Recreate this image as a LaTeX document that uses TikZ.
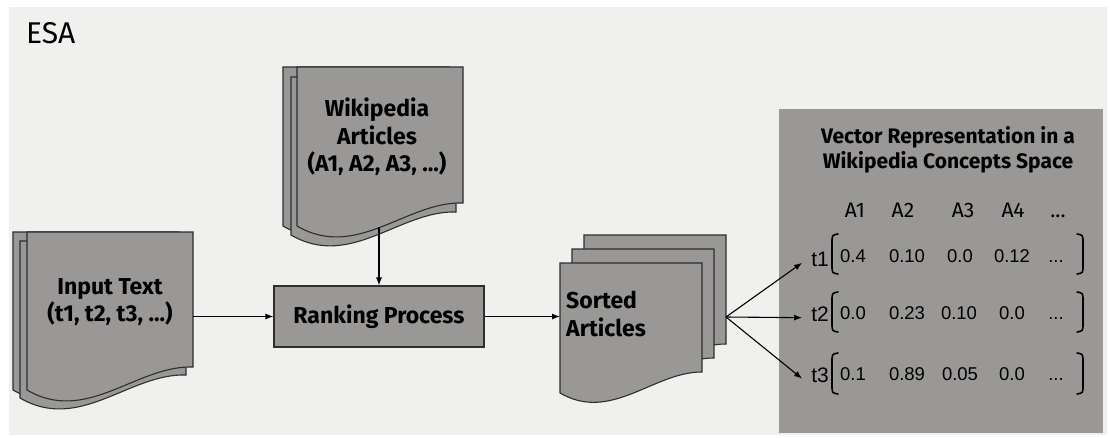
\documentclass[tikz,border=0pt]{standalone}
\usepackage{fontspec}
\setmainfont{Fira Sans}
\newfontfamily\arialfont{Liberation Sans}
\usetikzlibrary{arrows.meta}

\definecolor{bgfill}{HTML}{F0F0EF}
\definecolor{docfill}{HTML}{999896}
\definecolor{docline}{HTML}{2E2E2E}

% one sheet of a document stack: x, y (top left), width, left height, rise of right corner
\newcommand{\docsheet}[5]{%
  \draw[sheet] (#1,#2) -- ({#1+#3},#2) -- ({#1+#3},{#2+#4-#5})
    .. controls ({#1+0.66*#3},{#2+#4-0.15*#3}) and ({#1+0.36*#3},{#2+#4+0.21*#3}) .. (#1,{#2+#4}) -- cycle;}

\tikzset{
  sheet/.style={draw=docline, fill=docfill, line width=1.1pt},
  boldlabel/.style={font=\fontsize{23}{27.5}\selectfont\bfseries, align=center, inner sep=0pt},
  colhead/.style={font=\fontsize{21}{24}\selectfont, anchor=base, inner sep=0pt},
  cell/.style={font=\arialfont\fontsize{18.5}{21}\selectfont, anchor=base, inner sep=0pt},
  rowlabel/.style={font=\arialfont\fontsize{21}{24}\selectfont, anchor=base east, inner xsep=9pt, inner ysep=0pt, text depth=7pt},
  paren/.style={line width=1.6pt, line cap=round},
  flow/.style={->, line width=1.1pt, draw=black}
}

\begin{document}
\begin{tikzpicture}[x=1pt, y=-1pt, >={Latex[length=8pt,width=6pt]}]
  \useasboundingbox (0,0) rectangle (1110,437);
  % Background
  \fill[bgfill] (9,7) rectangle (1107,435);
  \node[anchor=base west, font=\fontsize{30}{36}\selectfont, inner sep=0pt] (esa) at (26,43) {ESA};

  % Input text
  \docsheet{13}{232}{166}{158}{23}
  \docsheet{20}{241}{166}{157}{23}
  \docsheet{27}{232}{166}{158}{23}
  \node[boldlabel] (input) at (110,302) {Input Text\\(t1, t2, t3, ...)};
  \coordinate (input-e) at (193,316.5);

  % Wikipedia articles
  \docsheet{283}{67}{166}{159}{23}
  \docsheet{291}{77}{165}{158}{23}
  \docsheet{297}{67}{166}{159}{23}
  \node[boldlabel] (wiki) at (377,137) {Wikipedia\\Articles\\(A1, A2, A3, ...)};
  \coordinate (wiki-s) at (379,227);

  % Ranking
  \node[sheet, boldlabel, minimum width=210pt, minimum height=61pt] (rank) at (379,316.5) {Ranking Process};

  % Sorted articles
  \docsheet{584}{235}{142}{130}{21}
  \docsheet{572}{249}{142}{130}{21}
  \docsheet{560}{263}{142}{130}{21}
  \node[boldlabel, align=left, anchor=west] (sorted) at (566,314) {Sorted\\Articles};
  \coordinate (sorted-w) at (560,316.5);
  \coordinate (fan) at (726,317);

  \draw[flow] (input-e) -- (rank.west);
  \draw[flow] (wiki-s) -- (rank.north);
  \draw[flow] (rank.east) -- (sorted-w);

  % Vector representation
  \fill[docfill] (779,109) rectangle (1103,433);
  \node[font=\fontsize{21}{25}\selectfont\bfseries, align=center, inner sep=0pt] (title) at (948,150)
    {Vector Representation in a\\Wikipedia Concepts Space};

  \node[colhead] (hA1) at (855,217) {A1};
  \node[colhead] (hA2) at (903,217) {A2};
  \node[colhead] (hA3) at (963,217) {A3};
  \node[colhead] (hA4) at (1013,217) {A4};
  \node[colhead] (hdots) at (1058,217) {...};

  \node[rowlabel] (t1) at (838,266.5) {t1};
  \node[rowlabel] (t2) at (838,321.5) {t2};
  \node[rowlabel] (t3) at (838,382.5) {t3};

  \node[cell] (v11) at (853,262.5) {0.4};
  \node[cell] (v12) at (907,262.5) {0.10};
  \node[cell] (v13) at (960,262.5) {0.0};
  \node[cell] (v14) at (1012,262.5) {0.12};
  \node[cell] (v15) at (1056,262.5) {...};

  \node[cell] (v21) at (853,319.5) {0.0};
  \node[cell] (v22) at (907,319.5) {0.23};
  \node[cell] (v23) at (959,319.5) {0.10};
  \node[cell] (v24) at (1012,319.5) {0.0};
  \node[cell] (v25) at (1056,319.5) {...};

  \node[cell] (v31) at (853,380) {0.1};
  \node[cell] (v32) at (907,380) {0.89};
  \node[cell] (v33) at (960,380) {0.05};
  \node[cell] (v34) at (1012,380) {0.0};
  \node[cell] (v35) at (1056,380) {...};

  % Brackets
  \draw[paren] (838,234) .. controls (832,235) .. (832,243) -- (832,265) .. controls (832,273) .. (838,274);
  \draw[paren] (1077,234) .. controls (1083,235) .. (1083,243) -- (1083,265) .. controls (1083,273) .. (1077,274);
  \draw[paren] (838,292) .. controls (832,293) .. (832,301) -- (832,323) .. controls (832,331) .. (838,332);
  \draw[paren] (1077,292) .. controls (1083,293) .. (1083,301) -- (1083,323) .. controls (1083,331) .. (1077,332);
  \draw[paren] (838,353) .. controls (832,354) .. (832,362) -- (832,385) .. controls (832,393) .. (838,394);
  \draw[paren] (1077,353) .. controls (1083,354) .. (1083,362) -- (1083,385) .. controls (1083,393) .. (1077,394);

  \draw[flow] (fan) -- (t1.west);
  \draw[flow] (fan) -- (t2.west);
  \draw[flow] (fan) -- (t3.west);
\end{tikzpicture}
\end{document}
